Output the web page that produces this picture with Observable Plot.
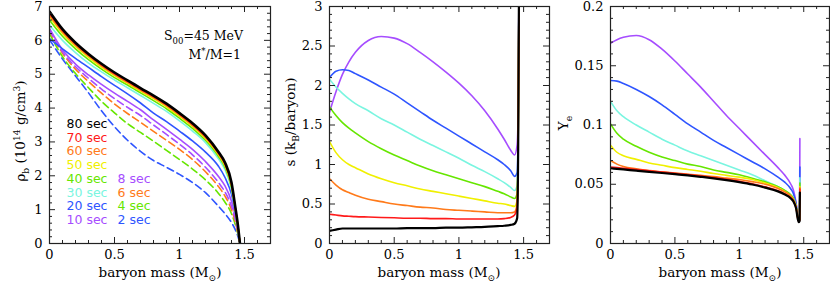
<!DOCTYPE html>
<html><head><meta charset="utf-8">
<script src="https://cdn.jsdelivr.net/npm/d3@7"></script>
<script src="https://cdn.jsdelivr.net/npm/@observablehq/plot@0.6"></script>
<style>
html,body{margin:0;padding:0;background:#fff;}
#wrap{position:relative;width:830px;height:283px;overflow:hidden;background:#fff;}
#wrap svg{position:absolute;top:0;}
</style></head><body><div id="wrap"></div>
<script>
// ---------- data ----------
const times = ["80 sec","70 sec","60 sec","50 sec","40 sec","30 sec","20 sec","10 sec"];
const colors = ["#000000","#ff1a1a","#ff7a1a","#f0f000","#66e600","#7af5e0","#2e55ff","#a64dff"];
const earlyTimes = ["8 sec","6 sec","4 sec","2 sec"];
const earlyColors = ["#a64dff","#ff7a1a","#66e600","#2e55ff"];

// panel 1: density
const massRho = [0,0.1,0.2,0.3,0.4,0.5,0.6,0.7,0.8,0.9,1.0,1.1,1.2,1.3,1.35,1.4,1.43,1.45,1.465];
const rho80 = [6.85,6.33,5.93,5.60,5.31,5.05,4.82,4.59,4.37,4.13,3.85,3.55,3.19,2.70,2.39,1.80,1.06,0.52,0];
const rho70 = [6.80,6.29,5.90,5.57,5.28,5.02,4.79,4.56,4.34,4.10,3.82,3.52,3.16,2.67,2.36,1.76,1.04,0.50,0];
const rho60 = [6.75,6.25,5.86,5.54,5.25,4.99,4.76,4.53,4.31,4.07,3.79,3.49,3.13,2.65,2.33,1.73,1.02,0.49,0];
const rho50 = [6.70,6.20,5.82,5.50,5.21,4.96,4.73,4.50,4.28,4.04,3.76,3.46,3.10,2.62,2.30,1.70,1.00,0.48,0];
const rho40 = [6.60,6.12,5.75,5.43,5.15,4.90,4.68,4.45,4.22,3.98,3.70,3.40,3.05,2.57,2.25,1.66,0.98,0.47,0];
const rho30 = [6.45,6.00,5.64,5.33,5.07,4.83,4.60,4.37,4.14,3.90,3.62,3.32,2.98,2.50,2.18,1.60,0.95,0.45,0];
const rho20 = [6.05,5.75,5.47,5.20,4.93,4.67,4.42,4.15,3.85,3.60,3.32,3.03,2.70,2.28,1.95,1.45,0.92,0.45,0];
const rho10 = [6.35,5.72,5.30,4.98,4.70,4.44,4.20,3.95,3.65,3.37,3.08,2.78,2.42,1.98,1.70,1.25,0.80,0.40,0];
const rho8  = [6.30,5.66,5.22,4.88,4.56,4.28,4.02,3.78,3.50,3.22,2.93,2.62,2.25,1.80,1.52,1.10,0.70,0.35,0];
const rho6  = [6.28,5.62,5.15,4.78,4.44,4.12,3.84,3.58,3.31,3.05,2.78,2.48,2.12,1.68,1.40,1.00,0.62,0.30,0];
const rho4  = [6.20,5.52,5.02,4.60,4.20,3.86,3.54,3.28,3.02,2.75,2.48,2.20,1.88,1.48,1.22,0.88,0.55,0.27,0];
const rho2  = [6.02,5.45,4.95,4.45,3.92,3.45,3.05,2.72,2.45,2.25,2.04,1.80,1.50,1.10,0.88,0.62,0.40,0.20,0];

// panel 2: entropy
const massS = [0,0.05,0.1,0.15,0.2,0.3,0.4,0.5,0.6,0.7,0.8,0.9,1.0,1.1,1.2,1.3,1.35,1.4,1.43,1.45,1.458,1.465];
const s80 = [0.16,0.175,0.19,0.19,0.19,0.19,0.19,0.19,0.195,0.195,0.195,0.2,0.2,0.205,0.21,0.22,0.225,0.235,0.25,0.32,1.2,3.5];
const s70 = [0.37,0.36,0.35,0.345,0.34,0.335,0.33,0.325,0.32,0.32,0.315,0.315,0.31,0.31,0.31,0.31,0.315,0.33,0.36,0.45,1.3,3.5];
const s60 = [0.82,0.74,0.68,0.645,0.61,0.56,0.53,0.5,0.48,0.46,0.45,0.43,0.42,0.41,0.4,0.39,0.39,0.39,0.4,0.5,1.3,3.5];
const s50 = [1.29,1.15,1.06,1.0,0.96,0.88,0.82,0.77,0.73,0.69,0.66,0.63,0.6,0.57,0.54,0.51,0.5,0.48,0.47,0.55,1.3,3.5];
const s40 = [1.73,1.62,1.53,1.46,1.4,1.29,1.2,1.12,1.05,0.98,0.92,0.87,0.82,0.77,0.72,0.66,0.63,0.59,0.57,0.63,1.3,3.5];
const s30 = [2.08,1.98,1.9,1.83,1.77,1.68,1.58,1.5,1.41,1.32,1.24,1.16,1.08,0.99,0.91,0.82,0.77,0.71,0.67,0.73,1.4,3.5];
const s20 = [2.1,2.18,2.2,2.19,2.15,2.07,1.98,1.89,1.78,1.67,1.56,1.46,1.36,1.26,1.16,1.06,1.0,0.92,0.85,0.9,1.5,3.5];
const s10 = [1.66,1.92,2.14,2.3,2.42,2.57,2.62,2.6,2.53,2.42,2.3,2.17,2.03,1.87,1.68,1.45,1.32,1.18,1.12,1.25,1.7,3.5];

// panel 3: electron fraction
const massYe = [0,0.05,0.1,0.2,0.3,0.4,0.5,0.6,0.7,0.8,0.9,1.0,1.1,1.2,1.3,1.35,1.4,1.42,1.44,1.46,1.468,1.47];
const ye80 = [0.0635,0.063,0.0625,0.0615,0.0605,0.0595,0.0585,0.0575,0.0563,0.055,0.0535,0.0518,0.0498,0.0472,0.044,0.0415,0.038,0.0355,0.03,0.018,0.019,0.043];
const ye70 = [0.0645,0.064,0.0635,0.0625,0.0613,0.0603,0.0592,0.0581,0.057,0.0557,0.0542,0.0525,0.0505,0.0478,0.0446,0.042,0.0385,0.036,0.0305,0.0185,0.0195,0.046];
const ye60 = [0.07,0.067,0.065,0.063,0.0615,0.0605,0.0595,0.0585,0.0575,0.0565,0.0552,0.054,0.0522,0.05,0.0465,0.0438,0.04,0.037,0.031,0.019,0.02,0.047];
const ye50 = [0.083,0.077,0.074,0.071,0.068,0.066,0.064,0.0625,0.061,0.059,0.0575,0.056,0.054,0.051,0.047,0.044,0.04,0.037,0.031,0.019,0.02,0.048];
const ye40 = [0.101,0.093,0.088,0.082,0.077,0.073,0.07,0.067,0.065,0.062,0.06,0.058,0.055,0.052,0.048,0.045,0.041,0.038,0.032,0.019,0.02,0.051];
const ye30 = [0.12,0.112,0.107,0.1,0.094,0.088,0.083,0.078,0.074,0.07,0.066,0.062,0.058,0.053,0.048,0.045,0.041,0.038,0.032,0.019,0.02,0.0555];
const ye20 = [0.1375,0.137,0.135,0.13,0.124,0.117,0.109,0.101,0.094,0.087,0.081,0.075,0.069,0.063,0.056,0.052,0.046,0.042,0.034,0.019,0.02,0.0645];
const ye10 = [0.169,0.172,0.174,0.1755,0.172,0.164,0.154,0.143,0.132,0.12,0.108,0.097,0.086,0.075,0.064,0.058,0.05,0.045,0.035,0.019,0.02,0.0885];

// ticks
const xMajor = [0,0.5,1,1.5];
const rhoMajor = [0,1,2,3,4,5,6,7];
const sMajor = [0,0.5,1,1.5,2,2.5,3];
const yeMajor = [0,0.05,0.1,0.15,0.2];

// ---------- drawing ----------
const H = 283, MT = 6, MB = 40, innerH = H - MT - MB;
const wrap = document.getElementById("wrap");

function toRows(mass, vals) { return mass.map((m, i) => ({m, v: vals[i]})); }

function makePanel({width, ml, mr, yDomain, yMajor, yMinorStep, lines}) {
  const innerW = width - ml - mr;
  const xMinor = d3.range(0.1, 1.7001, 0.1).map(d => +d.toFixed(3)).filter(d => !xMajor.some(t => Math.abs(t - d) < 1e-6) && d < 1.699);
  const yMinor = d3.range(0, yDomain[1] + 1e-9, yMinorStep).map(d => +d.toFixed(4)).filter(d => !yMajor.some(t => Math.abs(t - d) < 1e-6));
  const tk = "#222";
  const marks = [];
  for (const L of lines) {
    marks.push(Plot.line(toRows(L.mass, L.vals), {x: "m", y: "v", stroke: L.color, strokeWidth: L.w || 1.6,
      strokeDasharray: L.dash || null, curve: "monotone-x", clip: true}));
  }
  marks.push(
    Plot.tickX(xMajor, {x: d => d, insetTop: innerH - 6, stroke: tk}),
    Plot.tickX(xMinor, {x: d => d, insetTop: innerH - 3, stroke: tk}),
    Plot.tickX(xMajor, {x: d => d, insetBottom: innerH - 6, stroke: tk}),
    Plot.tickX(xMinor, {x: d => d, insetBottom: innerH - 3, stroke: tk}),
    Plot.tickY(yMajor, {y: d => d, insetRight: innerW - 6, stroke: tk}),
    Plot.tickY(yMinor, {y: d => d, insetRight: innerW - 3, stroke: tk}),
    Plot.tickY(yMajor, {y: d => d, insetLeft: innerW - 6, stroke: tk}),
    Plot.tickY(yMinor, {y: d => d, insetLeft: innerW - 3, stroke: tk}),
    Plot.frame({stroke: tk, strokeWidth: 1.2}),
    Plot.axisX({ticks: xMajor, tickSize: 0, tickPadding: 6, tickFormat: d => String(d), label: null}),
    Plot.axisY({ticks: yMajor, tickSize: 0, tickPadding: 7, tickFormat: d => String(d), label: null})
  );
  return {innerW, marks, opts: {width, height: H, marginLeft: ml, marginRight: mr, marginTop: MT, marginBottom: MB,
    x: {domain: [0, 1.7]}, y: {domain: yDomain},
    style: {fontFamily: "DejaVu Serif", fontSize: "13px", background: "transparent", color: "#000"}}};
}

function place(svg, left) {
  svg.style.left = left + "px";
  wrap.appendChild(svg);
}

function rich(svg, x, y, parts, {size = 13, family = "DejaVu Serif", rotate = false, anchor = "middle"} = {}) {
  const t = d3.select(svg).append("text").attr("x", x).attr("y", y)
    .attr("text-anchor", anchor).attr("font-family", family).attr("font-size", size).attr("fill", "#000");
  if (rotate) t.attr("transform", `rotate(-90 ${x} ${y})`);
  let shift = 0;
  for (const [s, kind] of parts) {
    const target = kind === "sub" ? 0.28 * size : kind === "sup" ? -0.4 * size : 0;
    const sp = t.append("tspan").attr("dy", target - shift).text(s);
    if (kind) sp.attr("font-size", size * 0.68);
    shift = target;
  }
}

const massLabel = [["baryon mass (M"], ["\u2299", "sub"], [")"]];

// Panel 1
const p1 = makePanel({width: 280, ml: 49, mr: 10, yDomain: [0, 7], yMajor: rhoMajor, yMinorStep: 0.2,
  lines: [
    {mass: massRho, vals: rho2, color: earlyColors[3], dash: "7,4"},
    {mass: massRho, vals: rho4, color: earlyColors[2], dash: "7,4"},
    {mass: massRho, vals: rho6, color: earlyColors[1], dash: "7,4"},
    {mass: massRho, vals: rho8, color: earlyColors[0], dash: "7,4"},
    {mass: massRho, vals: rho10, color: colors[7]},
    {mass: massRho, vals: rho20, color: colors[6]},
    {mass: massRho, vals: rho30, color: colors[5]},
    {mass: massRho, vals: rho40, color: colors[4]},
    {mass: massRho, vals: rho50, color: colors[3]},
    {mass: massRho, vals: rho60, color: colors[2]},
    {mass: massRho, vals: rho70, color: colors[1]},
    {mass: massRho, vals: rho80, color: colors[0], w: 2.6}
  ]});
times.forEach((t, i) => p1.marks.push(Plot.text([t], {text: d => d, frameAnchor: "top-left", dx: 17, dy: 117.5 + i * 13.7,
  fill: colors[i], fontFamily: "DejaVu Sans", fontSize: 12.5, textAnchor: "start", lineAnchor: "middle"})));
earlyTimes.forEach((t, i) => p1.marks.push(Plot.text([t], {text: d => d, frameAnchor: "top-left", dx: 68, dy: 117.5 + (i + 4) * 13.7,
  fill: earlyColors[i], fontFamily: "DejaVu Sans", fontSize: 12.5, textAnchor: "start", lineAnchor: "middle"})));
const svg1 = Plot.plot({...p1.opts, marks: p1.marks});
place(svg1, 0);
rich(svg1, 25, 131, [["\u03c1"], ["b", "sub"], [" (10"], ["14", "sup"], [" g/cm"], ["3", "sup"], [")"]], {size: 13.5, rotate: true});
rich(svg1, 160, 277, massLabel, {size: 13.5});
rich(svg1, 243, 40, [["S"], ["00", "sub"], ["=45 MeV"]], {size: 12.5, anchor: "end"});
rich(svg1, 241, 59, [["M"], ["*", "sup"], ["/M=1"]], {size: 12.5, anchor: "end"});

// Panel 2
const p2 = makePanel({width: 280, ml: 49, mr: 11, yDomain: [0, 3], yMajor: sMajor, yMinorStep: 0.1,
  lines: [
    {mass: massS, vals: s10, color: colors[7]},
    {mass: massS, vals: s20, color: colors[6]},
    {mass: massS, vals: s30, color: colors[5]},
    {mass: massS, vals: s40, color: colors[4]},
    {mass: massS, vals: s50, color: colors[3]},
    {mass: massS, vals: s60, color: colors[2]},
    {mass: massS, vals: s70, color: colors[1]},
    {mass: massS, vals: s80, color: colors[0], w: 2.2}
  ]});
const svg2 = Plot.plot({...p2.opts, marks: p2.marks});
place(svg2, 280);
rich(svg2, 15, 122, [["s (k"], ["B", "sub"], ["/baryon)"]], {size: 13.5, rotate: true});
rich(svg2, 159, 277, massLabel, {size: 13.5});

// Panel 3
const p3 = makePanel({width: 280, ml: 60, mr: 1, yDomain: [0, 0.2], yMajor: yeMajor, yMinorStep: 0.01,
  lines: [
    {mass: massYe, vals: ye10, color: colors[7]},
    {mass: massYe, vals: ye20, color: colors[6]},
    {mass: massYe, vals: ye30, color: colors[5]},
    {mass: massYe, vals: ye40, color: colors[4]},
    {mass: massYe, vals: ye50, color: colors[3]},
    {mass: massYe, vals: ye60, color: colors[2]},
    {mass: massYe, vals: ye70, color: colors[1]},
    {mass: massYe, vals: ye80, color: colors[0], w: 2.2}
  ]});
const svg3 = Plot.plot({...p3.opts, marks: p3.marks});
place(svg3, 550);
rich(svg3, 18, 123, [["Y"], ["e", "sub"]], {size: 13.5, rotate: true});
rich(svg3, 170, 277, massLabel, {size: 13.5});
</script></body></html>
